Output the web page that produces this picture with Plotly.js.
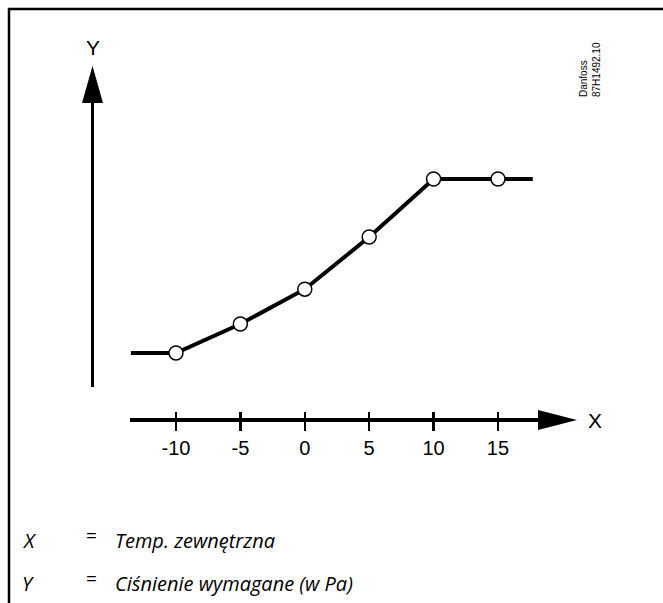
<!DOCTYPE html>
<html>
<head>
<meta charset="utf-8">
<script src="https://cdn.plot.ly/plotly-3.0.1.min.js"></script>
<style>html,body{margin:0;padding:0;background:#fff;}#chart{width:663px;height:603px;}</style>
</head>
<body>
<div id="chart"></div>
<script>
// ---- data ----
const temps = [-13.5, -10, -5, 0, 5, 10, 15, 17.7];
const pressure = [1, 1, 1.5, 2.1, 3, 4, 4, 4];
const pointTemps = [-10, -5, 0, 5, 10, 15];
const pointPressure = [1, 1.5, 2.1, 3, 4, 4];
const tickVals = [-10, -5, 0, 5, 10, 15];
const tickText = ['-10', '-5', '0', '5', '10', '15'];
const legendKeys = ['X', 'Y'];
const legendTexts = ['Temp. zewnętrzna', 'Ciśnienie wymagane (w Pa)'];

// ---- layout helpers (pixel -> paper) ----
const W = 663, H = 603;
const P = x => x / W;
const Q = y => 1 - y / H;
const sans = 'Liberation Sans, Arial, sans-serif';
const legFont = 'Open Sans, Noto Sans, sans-serif';

const traces = [
  {x: temps, y: pressure, type: 'scatter', mode: 'lines',
   line: {color: '#000', width: 4}, hoverinfo: 'skip'},
  {x: pointTemps, y: pointPressure, type: 'scatter', mode: 'markers',
   marker: {size: 14, color: '#fff', line: {color: '#000', width: 1.5}}, hoverinfo: 'skip'}
];

const shapes = [
  // frame (top + left)
  {type: 'line', xref: 'paper', yref: 'paper', x0: P(8), x1: 1, y0: Q(9), y1: Q(9), line: {color: '#000', width: 2.5}},
  {type: 'line', xref: 'paper', yref: 'paper', x0: P(9), x1: P(9), y0: Q(8), y1: 0, line: {color: '#000', width: 2.5}},
  // x axis line + arrow
  {type: 'line', xref: 'paper', yref: 'paper', x0: P(130), x1: P(545), y0: Q(420), y1: Q(420), line: {color: '#000', width: 4}},
  {type: 'path', xref: 'paper', yref: 'paper', fillcolor: '#000', line: {width: 0},
   path: `M${P(538)},${Q(410)} L${P(577)},${Q(420)} L${P(538)},${Q(430)} Z`},
  // y axis line + arrow
  {type: 'line', xref: 'paper', yref: 'paper', x0: P(92.5), x1: P(92.5), y0: Q(387), y1: Q(98), line: {color: '#000', width: 3}},
  {type: 'path', xref: 'paper', yref: 'paper', fillcolor: '#000', line: {width: 0},
   path: `M${P(82)},${Q(103)} L${P(92.5)},${Q(66)} L${P(103)},${Q(103)} Z`}
];

const annotations = [
  {text: 'Y', x: P(93), y: Q(48), xref: 'paper', yref: 'paper', showarrow: false,
   xanchor: 'center', yanchor: 'middle', font: {family: sans, size: 21, color: '#000'}},
  {text: 'X', x: P(595), y: Q(420), xref: 'paper', yref: 'paper', showarrow: false,
   xanchor: 'center', yanchor: 'middle', font: {family: sans, size: 21, color: '#000'}},
  {text: 'Danfoss<br>87H1492.10', x: P(590), y: Q(70), xref: 'paper', yref: 'paper', showarrow: false,
   textangle: -90, align: 'left', xanchor: 'center', yanchor: 'middle',
   font: {family: sans, size: 10, color: '#000'}}
];
const rowY = [540, 583];
legendKeys.forEach((k, i) => {
  annotations.push({text: k, x: P(20), y: Q(rowY[i]), xref: 'paper', yref: 'paper', showarrow: false,
    xanchor: 'left', yanchor: 'middle', font: {family: legFont, size: 20, style: 'italic', color: '#000'}});
  annotations.push({text: '=', x: P(84), y: Q(rowY[i] - 5), xref: 'paper', yref: 'paper', showarrow: false,
    xanchor: 'left', yanchor: 'middle', font: {family: legFont, size: 19, color: '#000'}});
  annotations.push({text: legendTexts[i], x: P(113), y: Q(rowY[i]), xref: 'paper', yref: 'paper', showarrow: false,
    xanchor: 'left', yanchor: 'middle', font: {family: legFont, size: 20, style: 'italic', color: '#000'}});
});

const layout = {
  width: W, height: H,
  margin: {l: 0, r: 0, t: 0, b: 0},
  paper_bgcolor: '#fff', plot_bgcolor: 'rgba(0,0,0,0)',
  showlegend: false,
  xaxis: {range: [-23.66, 27.81], domain: [0, 1], anchor: 'free', position: Q(411),
    showgrid: false, zeroline: false, showline: false,
    ticks: 'outside', ticklen: 19, tickwidth: 2.5, tickcolor: '#000',
    tickmode: 'array', tickvals: tickVals, ticktext: tickText,
    tickfont: {family: sans, size: 20, color: '#000'}, fixedrange: true},
  yaxis: {range: [-3.31, 7.086], domain: [0, 1], visible: false, fixedrange: true},
  shapes: shapes,
  annotations: annotations
};

Plotly.newPlot('chart', traces, layout, {staticPlot: true, displayModeBar: false});
</script>
</body>
</html>
